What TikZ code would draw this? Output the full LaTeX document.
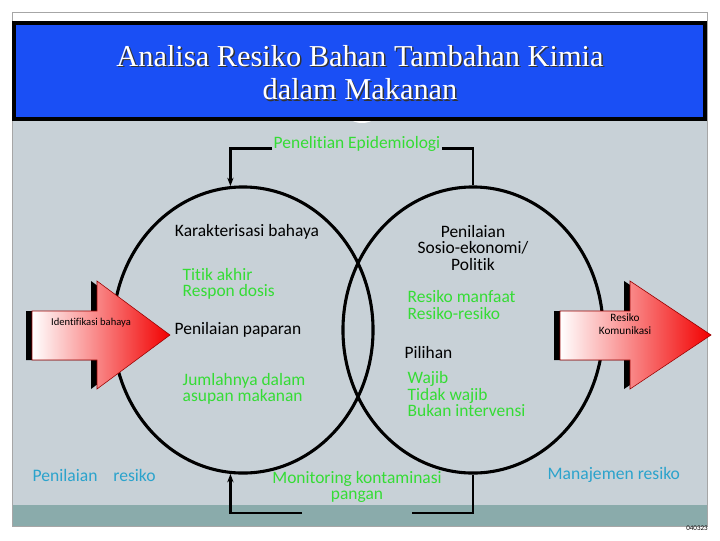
\documentclass[tikz,border=0pt]{standalone}
\usepackage{fontspec}
\setmainfont[Ligatures=NoCommon]{Carlito}
\newfontfamily\titlefont{Liberation Serif}
\usetikzlibrary{shapes.geometric,arrows.meta}

\definecolor{panelgray}{HTML}{C8D1D7}
\definecolor{bandteal}{HTML}{8AABAB}
\definecolor{titleblue}{HTML}{1A4FF5}
\definecolor{labgreen}{HTML}{35DC35}
\definecolor{labblue}{HTML}{2BA3CC}
\definecolor{arrowred}{HTML}{F20000}

\begin{document}
\begin{tikzpicture}[x=0.025cm, y=-0.025cm,
  lab/.style={font=\fontsize{12.4}{11.6}\selectfont, inner sep=1pt, align=left},
  greenlab/.style={lab, text=labgreen},
  bluelab/.style={lab, font=\fontsize{12.5}{13}\selectfont, text=labblue},
  titletext/.style={font=\titlefont\fontsize{21.6}{24}\selectfont, align=center},
  ring/.style={draw, ellipse, line width=2.2pt, minimum width=6.5cm, minimum height=7.15cm},
  link/.style={line width=2pt},
  uparrow/.style={-{Stealth[length=6pt,width=4.5pt]}}]
\useasboundingbox (0,0) rectangle (720,540);
% slide background
\fill[white] (0,0) rectangle (720,540);
\fill[panelgray] (12,100) rectangle (707,505);
\fill[bandteal] (12,505) rectangle (707,526);
\draw[gray!70] (12,12) rectangle (707,526);
\fill[white] (362,112) ellipse (16 and 11);
% title
\draw[line width=2.2pt, fill=titleblue] (14,23) rectangle (705,119);
\node[titletext, text=black!80] (titleshade) at (361.5,74) {Analisa Resiko Bahan Tambahan Kimia\\dalam Makanan};
\node[titletext, text=white] (title) at (360,72.5) {Analisa Resiko Bahan Tambahan Kimia\\dalam Makanan};
% the two circles
\node[ring] (hazard) at (243,330) {};
\node[ring] (risk) at (473,330) {};
% block arrows
\foreach \a/\b/\c in {32/97/170, 560/630/711}{
  \fill[black, shift={(-6,0)}] (\a,311) -- (\b,311) -- (\b,281) -- (\c,335) -- (\b,389) -- (\b,360) -- (\a,360) -- cycle;
  \shadedraw[left color=white, right color=arrowred, draw=red!60!black, thin] (\a,311) -- (\b,311) -- (\b,281) -- (\c,335) -- (\b,389) -- (\b,360) -- (\a,360) -- cycle;
}
\node[lab, font=\fontsize{7.5}{8}\selectfont] (ident) at (91,323) {Identifikasi bahaya};
\node[lab, font=\fontsize{8}{9}\selectfont, align=center] (komun) at (625,324) {Resiko\\Komunikasi};
% labels
\node[greenlab] (pen) at (357,144) {Penelitian Epidemiologi};
\node[lab] (karak) at (247,232) {Karakterisasi bahaya};
\node[greenlab, anchor=west] (titik) at (181,284) {Titik akhir\\Respon dosis};
\node[lab, anchor=west] (paparan) at (173,330) {Penilaian paparan};
\node[greenlab, anchor=west] (jumlah) at (181,389) {Jumlahnya dalam\\asupan makanan};
\node[lab, align=center] (sosio) at (473,248) {Penilaian\\Sosio-ekonomi/\\Politik};
\node[greenlab, anchor=west] (manfaat) at (406,305) {Resiko manfaat\\Resiko-resiko};
\node[lab, anchor=west] (pilihan) at (403,353) {Pilihan};
\node[greenlab, anchor=west] (wajib) at (406,394) {Wajib\\Tidak wajib\\Bukan intervensi};
\node[greenlab, align=center] (monitor) at (357,487) {Monitoring kontaminasi\\pangan};
\node[bluelab, anchor=west] (penres) at (31,475) {Penilaian\hspace{0.9em}resiko};
\node[bluelab, anchor=west] (manres) at (546,475) {Manajemen resiko};
\node[font=\fontsize{5}{5}\selectfont, inner sep=0] (slideno) at (697,528) {040323};
% connectors
\draw[link, uparrow] (pen.base west) -| (hazard.95);
\draw[link] (pen.base east) -| (risk.north);
\coordinate (monL) at (302,513);
\coordinate (monR) at (412,513);
\draw[link, uparrow] (monL) -| (hazard.265);
\draw[link] (monR) -| (risk.south);
\end{tikzpicture}
\end{document}
